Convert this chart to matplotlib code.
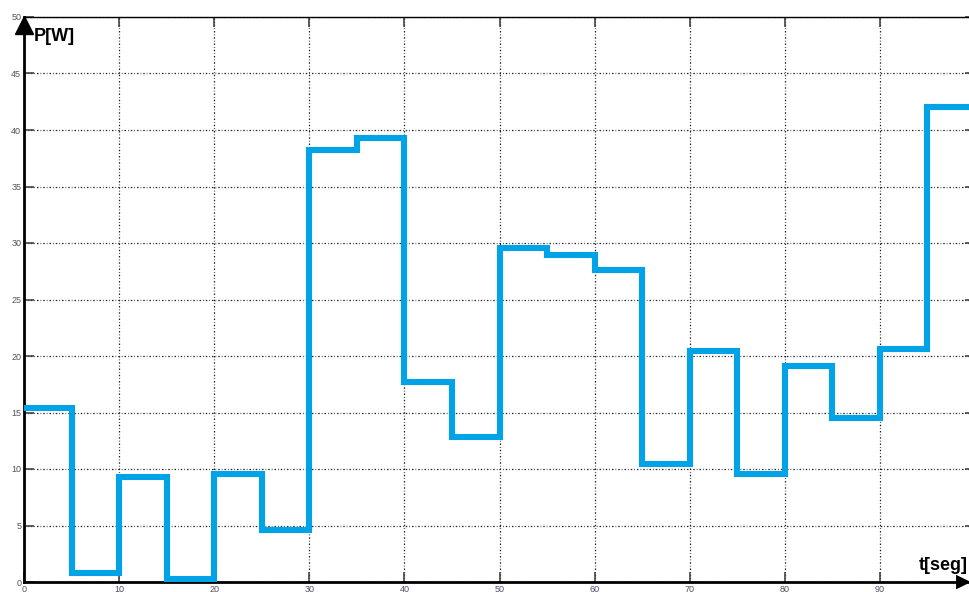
import matplotlib.pyplot as plt
import numpy as np

# power steps, one value per 5 s interval
t_edges = [0, 5, 10, 15, 20, 25, 30, 35, 40, 45, 50, 55, 60, 65, 70, 75, 80, 85, 90, 95, 100]
p_vals = [15.4, 0.8, 9.3, 0.3, 9.6, 4.6, 38.2, 39.3, 17.7, 12.8,
          29.6, 28.9, 27.6, 10.4, 20.4, 9.6, 19.1, 14.5, 20.6, 42.0]
x_ticks = [0, 10, 20, 30, 40, 50, 60, 70, 80, 90]
y_ticks = [0, 5, 10, 15, 20, 25, 30, 35, 40, 45, 50]

plt.rcParams['font.family'] = ['Liberation Sans', 'DejaVu Sans']

fig = plt.figure(figsize=(9.7, 5.92), dpi=100)
ax = fig.add_axes([24/970, 10/592, 951/970, 565/592])

# step curve: repeat last value so the final interval is drawn
xs = np.array(t_edges)
ys = np.append(p_vals, p_vals[-1])
ax.step(xs, ys, where='post', color='#00A3E6', lw=4.4, solid_joinstyle='miter', zorder=3)

ax.set_xlim(0, 100)
ax.set_ylim(0, 50)
ax.set_xticks(x_ticks)
ax.set_yticks(y_ticks)
ax.tick_params(direction='in', length=7, width=1.2, color='#444444', labelsize=6.5,
               labelcolor='#505064', top=True, right=True, pad=2)
ax.grid(True, color='#222222', lw=0.9, linestyle=(0, (1.2, 1.6, 0.6, 1.6)))

for s in ['left', 'bottom']:
    ax.spines[s].set_linewidth(2)
ax.spines['top'].set_linewidth(1)

# axis arrows
ax.plot(0, 49.3, marker='^', ms=13, color='black', clip_on=False, zorder=5)
fig.text(971/970, 10/592, u'\u25B6', ha='right', va='center', fontsize=14, color='black')

ax.text(1.0, 48.3, 'P[W]', fontsize=13, fontweight='bold', va='center', ha='left')
fig.text(968/970, 27/592, 't[seg]', fontsize=13, fontweight='bold', ha='right', va='center')

fig.savefig('out.png', dpi=100)
